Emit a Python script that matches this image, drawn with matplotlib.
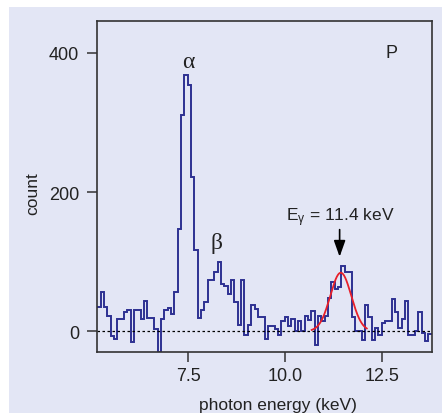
#spectrum plot - photon energy histogram with gaussian fit
import numpy as np
import matplotlib.pyplot as plt
from matplotlib.patches import Rectangle

#histogram data (counts per bin)
BIN_START = 5.155 #keV, left edge of first bin
BIN_WIDTH = 0.0862 #keV
counts = [35, 57, 34, 22, -7, -12, 18, 18, 27, 30,
          -15, 30, 31, 18, 43, 19, 19, 3, -30, 18,
          30, 33, 24, 56, 147, 311, 369, 354, 222, 117,
          19, 30, 42, 73, 73, 85, 99, 68, 65, 53,
          74, 42, 9, 74, -6, 9, 38, 32, 20, 21,
          -11, 7, 7, 3, -6, 14, 20, 8, 18, 0,
          14, 0, 22, 16, 29, -20, 22, 14, 22, 47,
          70, 60, 63, 93, 85, 85, 20, 0, 0, -13,
          38, 20, -13, 5, -5, 12, 14, 15, 46, 28,
          4, 18, 44, -5, -5, 0, 28, -3, -14, -4]

#gaussian fit of the 11.4 keV line
FIT_AMP = 84
FIT_CENTER = 11.43
FIT_SIGMA = 0.27
FIT_RANGE = (10.68, 12.1)

#axis settings
X_LIM = (5.155, 13.773)
Y_LIM = (-30, 446)
X_TICKS = [7.5, 10.0, 12.5]
Y_TICKS = [0, 200, 400]

#colours
BG = "#e3e6f5"
HIST_COLOR = "#2e3192"
FIT_COLOR = "#e8202a"

plt.rcParams["font.family"] = ["Liberation Sans", "DejaVu Sans"]
plt.rcParams["font.size"] = 13

fig = plt.figure(figsize=(4.42, 4.14), dpi=100, facecolor="white")
#lavender panel with a small white margin top/left
fig.patches.append(Rectangle((9 / 442, 0), 1, 1 - 8 / 414, transform=fig.transFigure,
                             facecolor=BG, edgecolor="none", zorder=-10))

ax = fig.add_axes([97.3 / 442, 1 - 353 / 414, 334.4 / 442, 331 / 414])
ax.set_facecolor(BG)

edges = BIN_START + BIN_WIDTH * np.arange(len(counts) + 1)
ax.stairs(counts, edges, baseline=None, color=HIST_COLOR, lw=1.4)

#fit curve
xfit = np.linspace(FIT_RANGE[0], FIT_RANGE[1], 200)
yfit = FIT_AMP * np.exp(-0.5 * ((xfit - FIT_CENTER) / FIT_SIGMA) ** 2)
ax.plot(xfit, yfit, color=FIT_COLOR, lw=1.3)

#zero line
ax.axhline(0, color="black", ls=(0, (2, 2)), lw=0.9)

ax.set_xlim(X_LIM)
ax.set_ylim(Y_LIM)
ax.set_xticks(X_TICKS)
ax.set_xticklabels(["%.1f" % t for t in X_TICKS])
ax.set_yticks(Y_TICKS)

for s in ax.spines.values():
    s.set_color("#333333")
    s.set_linewidth(1.2)
ax.tick_params(axis="both", direction="out", length=7, width=1.1, color="#333333",
               labelcolor="#222222", labelsize=13)
ax.tick_params(axis="x", pad=4)
ax.tick_params(axis="y", pad=6)

ax.set_xlabel("photon energy (keV)", color="#222222", fontsize=12.5)
ax.set_ylabel("count", color="#222222", fontsize=12.5)
ax.xaxis.set_label_coords(0.54, -0.135)
ax.yaxis.set_label_coords(-0.17, 0.48)

#annotations
ax.text(7.49, 388, "α", family=["Liberation Serif", "DejaVu Serif"], fontsize=17,
        ha="center", va="center", color="#222222")
ax.text(8.23, 127, "β", family=["Liberation Serif", "DejaVu Serif"], fontsize=17,
        ha="center", va="center", color="#222222")
ax.text(12.74, 400, "P", ha="center", va="center", color="#222222", fontsize=13)
ax.text(11.41, 164, r"E$\mathregular{_γ}$ = 11.4 keV", ha="center", va="center",
        color="#222222", fontsize=12.5)
ax.annotate("", xy=(11.4, 103), xytext=(11.4, 150),
            arrowprops=dict(arrowstyle="-|>,head_width=0.25,head_length=0.7",
                            color="black", lw=1.2, mutation_scale=14))

fig.savefig("out.png", dpi=100, facecolor=fig.get_facecolor())
